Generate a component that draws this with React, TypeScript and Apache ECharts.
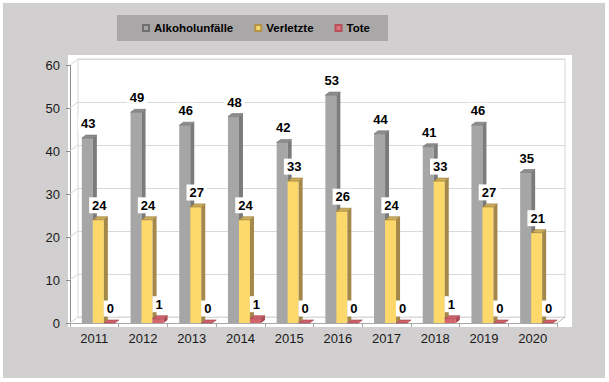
import { useEffect, useRef } from 'react';
import * as echarts from 'echarts';

const years = ['2011', '2012', '2013', '2014', '2015', '2016', '2017', '2018', '2019', '2020'];
const alkohol = [43, 49, 46, 48, 42, 53, 44, 41, 46, 35];
const verletzte = [24, 24, 27, 24, 33, 26, 24, 33, 27, 21];
const tote = [0, 1, 0, 1, 0, 0, 0, 1, 0, 0];
const yTicks = [0, 10, 20, 30, 40, 50, 60];
const seriesNames = ['Alkoholunfälle', 'Verletzte', 'Tote'];

const FONT = '"Liberation Sans", Arial, sans-serif';
const BAR_W = 11;
const DX = 4;
const DY = -3;

function makeBarRender(idx: number, front: string, side: string, top: string, edge: string) {
  return (params: any, api: any) => {
    const cat = api.value(0) as number;
    const val = api.value(1) as number;
    const pTop = api.coord([cat, val]);
    const pBase = api.coord([cat, 0]);
    const x = pTop[0] - 12.5 + idx * BAR_W;
    const yT = pTop[1];
    const yB = pBase[1];
    const h = yB - yT;
    const children: any[] = [];
    if (h > 0.1) {
      children.push({ type: 'rect', shape: { x, y: yT, width: BAR_W, height: h }, style: { fill: front } });
      children.push({
        type: 'polygon',
        shape: { points: [[x + BAR_W, yT], [x + BAR_W + DX, yT + DY], [x + BAR_W + DX, yB + DY], [x + BAR_W, yB]] },
        style: { fill: side },
      });
    }
    children.push({
      type: 'polygon',
      shape: { points: [[x, yT], [x + DX, yT + DY], [x + BAR_W + DX, yT + DY], [x + BAR_W, yT]] },
      style: { fill: top, stroke: edge, lineWidth: 0.6 },
    });
    children.push({
      type: 'text',
      style: {
        text: String(val),
        x: x + BAR_W / 2 + 1,
        y: yT - 14.5,
        align: 'center',
        verticalAlign: 'middle',
        fill: '#000',
        fontSize: 13,
        fontWeight: 'bold',
        fontFamily: FONT,
        backgroundColor: '#ffffff',
        padding: [2, 3, 1, 3],
      },
    });
    return { type: 'group', children };
  };
}

function wallRender(params: any, api: any) {
  const cs = params.coordSys;
  const v = api.value(1) as number;
  const p = api.coord([0, v]);
  const children: any[] = [
    { type: 'line', shape: { x1: cs.x, y1: p[1], x2: cs.x + 8, y2: p[1] - 6 }, style: { stroke: '#d6d6d6', lineWidth: 1 } },
  ];
  if (v === 0) {
    children.push({
      type: 'line',
      shape: { x1: cs.x + cs.width, y1: p[1], x2: cs.x + cs.width + 8, y2: p[1] - 6 },
      style: { stroke: '#b8b8b8', lineWidth: 1 },
    });
  }
  return { type: 'group', children };
}

export default function App() {
  const ref = useRef<HTMLDivElement>(null);
  useEffect(() => {
    if (!ref.current) return;
    const chart = echarts.init(ref.current, null, { renderer: 'svg' });
    const option: any = {
      animation: false,
      backgroundColor: '#ffffff',
      graphic: [
        { type: 'rect', z: -10, shape: { x: 3, y: 3, width: 602, height: 375 }, style: { fill: '#d1cfcf' } },
        { type: 'rect', z: -9, shape: { x: 68, y: 55, width: 504, height: 272 }, style: { fill: '#ffffff' } },
      ],
      legend: {
        data: seriesNames,
        left: 117,
        top: 15,
        padding: [7, 18, 7, 25],
        backgroundColor: '#a9a7a7',
        itemWidth: 6,
        itemHeight: 6,
        itemGap: 21,
        icon: 'rect',
        selectedMode: false,
        textStyle: { fontFamily: FONT, fontSize: 11.5, fontWeight: 'bold', color: '#000' },
      },
      grid: [
        { left: 70, top: 65, width: 487, height: 258, containLabel: false },
        { left: 78, top: 59, width: 487, height: 258, show: true, borderColor: '#d6d6d6', borderWidth: 1, backgroundColor: 'transparent' },
      ],
      xAxis: [
        {
          type: 'category',
          gridIndex: 0,
          data: years,
          axisLine: { show: true, lineStyle: { color: '#a8a8a8' } },
          axisTick: { show: true, length: 4, lineStyle: { color: '#a8a8a8' } },
          axisLabel: { fontFamily: FONT, fontSize: 13, color: '#1a1a1a', margin: 9 },
          splitLine: { show: false },
        },
        {
          type: 'category',
          gridIndex: 1,
          data: years,
          axisLine: { show: false },
          axisTick: { show: false },
          axisLabel: { show: false },
          splitLine: { show: false },
        },
      ],
      yAxis: [
        {
          type: 'value',
          gridIndex: 0,
          min: 0,
          max: 60,
          interval: 10,
          axisLine: { show: true, lineStyle: { color: '#8c8c8c' } },
          axisTick: { show: true, length: 4, lineStyle: { color: '#8c8c8c' } },
          axisLabel: { fontFamily: FONT, fontSize: 13, color: '#1a1a1a', margin: 10 },
          splitLine: { show: false },
        },
        {
          type: 'value',
          gridIndex: 1,
          min: 0,
          max: 60,
          interval: 10,
          axisLine: { show: false },
          axisTick: { show: false },
          axisLabel: { show: false },
          splitLine: { show: true, lineStyle: { color: '#d9d9d9', width: 1 } },
        },
      ],
      series: [
        {
          type: 'custom',
          name: 'wall',
          xAxisIndex: 0,
          yAxisIndex: 0,
          silent: true,
          z: 1,
          renderItem: wallRender,
          data: yTicks.map((v) => [0, v]),
          encode: { x: 0, y: 1 },
        },
        {
          type: 'custom',
          name: seriesNames[0],
          xAxisIndex: 0,
          yAxisIndex: 0,
          z: 3,
          itemStyle: { color: '#a5a5a5', borderColor: '#6f6f6f', borderWidth: 1 },
          renderItem: makeBarRender(0, '#a6a6a6', '#7b7b7b', '#8d8d8d', '#707070'),
          data: alkohol.map((v, i) => [i, v]),
          encode: { x: 0, y: 1 },
        },
        {
          type: 'custom',
          name: seriesNames[1],
          xAxisIndex: 0,
          yAxisIndex: 0,
          z: 4,
          itemStyle: { color: '#fbd96e', borderColor: '#b39447', borderWidth: 1 },
          renderItem: makeBarRender(1, '#fdd96b', '#a38849', '#cfae58', '#8c7236'),
          data: verletzte.map((v, i) => [i, v]),
          encode: { x: 0, y: 1 },
        },
        {
          type: 'custom',
          name: seriesNames[2],
          xAxisIndex: 0,
          yAxisIndex: 0,
          z: 5,
          itemStyle: { color: '#e0767c', borderColor: '#b8505a', borderWidth: 1 },
          renderItem: makeBarRender(2, '#d6666e', '#a94a52', '#d0626b', '#9b3f47'),
          data: tote.map((v, i) => [i, v]),
          encode: { x: 0, y: 1 },
        },
      ],
    };
    chart.setOption(option);
    return () => chart.dispose();
  }, []);
  return <div ref={ref} style={{ position: 'absolute', left: 0, top: 0, width: 609, height: 382 }} />;
}
